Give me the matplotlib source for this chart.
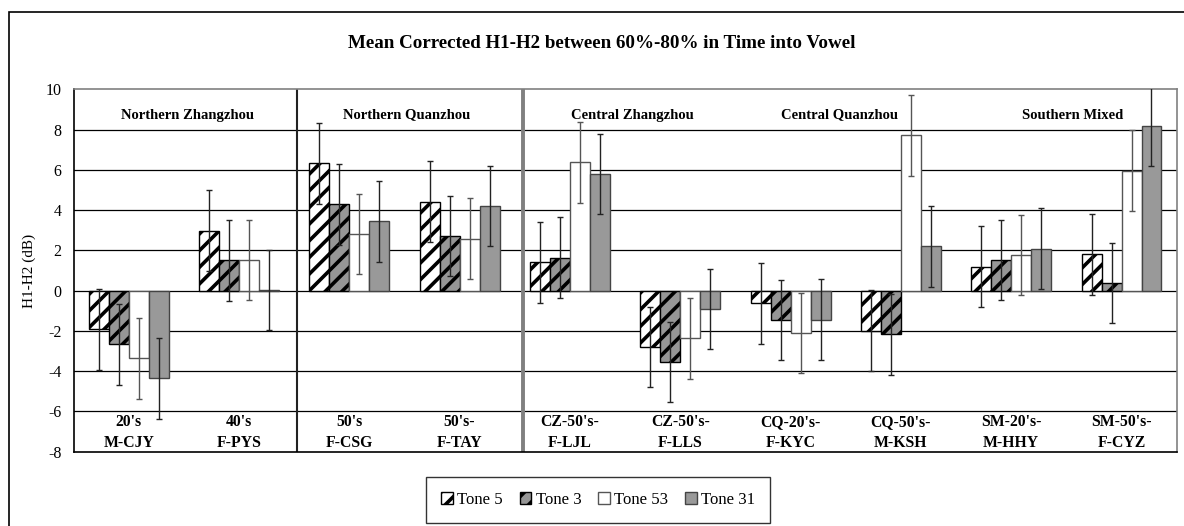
import matplotlib
matplotlib.use("Agg")
import matplotlib.pyplot as plt
from matplotlib.patches import Patch, Rectangle
import numpy as np

plt.rcParams['font.family'] = ['Liberation Serif', 'DejaVu Serif']
plt.rcParams['hatch.linewidth'] = 2.6
plt.rcParams['axes.unicode_minus'] = False

# Speakers (two-line labels) and dialect regions
speakers = ["20's\nM-CJY", "40's\nF-PYS", "50's\nF-CSG", "50's-\nF-TAY",
            "CZ-50's-\nF-LJL", "CZ-50's-\nF-LLS", "CQ-20's-\nF-KYC",
            "CQ-50's-\nM-KSH", "SM-20's-\nM-HHY", "SM-50's-\nF-CYZ"]
regions = ["Northern Zhangzhou", "Northern Quanzhou", "Central Zhangzhou",
           "Central Quanzhou", "Southern Mixed"]
region_x = [0.53, 2.52, 4.57, 6.44, 8.56]
separators = [1.53, 3.57]

# Mean corrected H1-H2 (dB) per tone
tone5 = [-1.92, 2.98, 6.32, 4.42, 1.41, -2.80, -0.63, -1.99, 1.19, 1.80]
tone3 = [-2.67, 1.50, 4.29, 2.71, 1.64, -3.55, -1.46, -2.17, 1.52, 0.38]
tone53 = [-3.36, 1.52, 2.81, 2.58, 6.37, -2.37, -2.10, 7.71, 1.78, 5.96]
tone31 = [-4.36, 0.03, 3.44, 4.20, 5.79, -0.91, -1.44, 2.20, 2.08, 8.19]

# Error bar half-widths (dB)
err5 = [2.0, 2.0, 2.0, 2.0, 2.0, 2.0, 2.0, 2.0, 2.0, 2.0]
err3 = [2.0, 2.0, 2.0, 2.0, 2.0, 2.0, 2.0, 2.0, 2.0, 2.0]
err53 = [2.0, 2.0, 2.0, 2.0, 2.0, 2.0, 2.0, 2.0, 2.0, 2.0]
err31 = [2.0, 2.0, 2.0, 2.0, 2.0, 2.0, 2.0, 2.0, 2.0, 2.0]

tone_names = ["Tone 5", "Tone 3", "Tone 53", "Tone 31"]
series = [tone5, tone3, tone53, tone31]
errors = [err5, err3, err53, err31]
faces = ["white", "#969696", "white", "#999999"]
hatches = ["//", "//", None, None]
edges = ["black", "black", "#555555", "#444444"]
err_colors = ["#222222", "#222222", "#555555", "#222222"]

fig = plt.figure(figsize=(11.84, 5.26), dpi=100)
ax = fig.add_axes([73.5 / 1184, 1 - 451.7 / 526, (1176.7 - 73.5) / 1184, (451.7 - 89.3) / 526])

x = np.arange(len(speakers))
w = 0.181
offsets = [-1.5 * w, -0.5 * w, 0.5 * w, 1.5 * w]

for vals, errs, fc, hat, ec, erc, off in zip(series, errors, faces, hatches, edges, err_colors, offsets):
    ax.bar(x + off, vals, width=w, color=fc, hatch=hat, edgecolor=ec, linewidth=1.0, zorder=2)
    ax.errorbar(x + off, vals, yerr=errs, fmt='none', ecolor=erc, elinewidth=1.0,
                capsize=2.3, capthick=1.0, zorder=3)

# horizontal grid lines
for gy in range(-6, 10, 2):
    ax.axhline(gy, color='black', linewidth=0.9, zorder=1)

for sx, col, lw in zip(separators, ['#222222', '#808080'], [1.5, 2.8]):
    ax.axvline(sx, color=col, linewidth=lw, zorder=1)

ax.set_xlim(-0.5, 9.5)
ax.set_ylim(-8, 10)
ax.set_yticks(range(-8, 11, 2))
ax.set_xticks([])
ax.tick_params(axis='y', length=0, pad=8.5, labelsize=11.5)

for side in ['left', 'bottom']:
    ax.spines[side].set_color('black')
    ax.spines[side].set_linewidth(1.2)
for side in ['right', 'top']:
    ax.spines[side].set_color('#808080')
    ax.spines[side].set_linewidth(1.2)

ax.set_ylabel("H1-H2 (dB)", fontsize=11)
ax.yaxis.set_label_coords(-0.034, 0.5)

for xi, lab in zip(x, speakers):
    ax.text(xi, -7.05, lab, ha='center', va='center', fontsize=11.3,
            fontweight='bold', linespacing=1.35)

for rx, rname in zip(region_x, regions):
    ax.text(rx, 8.72, rname, ha='center', va='center', fontsize=10.5, fontweight='bold')

fig.text(602 / 1184, 1 - 43 / 526, "Mean Corrected H1-H2 between 60%-80% in Time into Vowel",
         ha='center', va='center', fontsize=13.7, fontweight='bold')

handles = [Patch(facecolor=fc, hatch=hat, edgecolor=ec, linewidth=1.0)
           for fc, hat, ec in zip(faces, hatches, edges)]
leg = fig.legend(handles, tone_names, loc='center', bbox_to_anchor=(598 / 1184, 1 - 500 / 526),
                 ncol=4, fontsize=12.1, frameon=True, fancybox=False, handlelength=0.7,
                 handleheight=0.7, handletextpad=0.25, columnspacing=1.0, borderpad=0.9)
leg.get_frame().set_edgecolor('black')
leg.get_frame().set_linewidth(1.0)

# outer chart border
fig.patches.append(Rectangle((8.5 / 1184, -0.1), 1.2, 1.1 - 12.5 / 526, transform=fig.transFigure,
                             fill=False, edgecolor='black', linewidth=1.2))

fig.savefig("out.png", dpi=100)
